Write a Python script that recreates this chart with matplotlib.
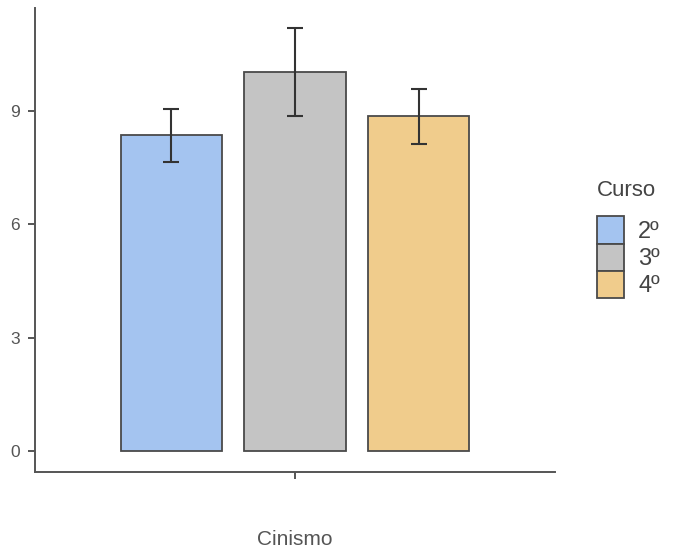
import numpy as np
import matplotlib.pyplot as plt
from matplotlib.patches import Patch

#-------data------
groups = ['2º', '3º', '4º']
means = [8.36, 10.03, 8.87]
lower = [7.65, 8.87, 8.13]
upper = [9.05, 11.20, 9.58]
colors = ['#A4C4F0', '#C4C4C4', '#F0CC8C']
yticks = [0, 3, 6, 9]

plt.rcParams['font.family'] = ['Liberation Sans', 'DejaVu Sans']

fig = plt.figure(figsize=(6.73, 5.54), dpi=100)
ax = fig.add_axes([35/673, 82/554, 520/673, 464/554])

x = np.arange(len(groups)) - 1
w = 0.818
ax.bar(x, means, width=w, color=colors, edgecolor='#4a4a4a', linewidth=1.3, zorder=2)
err = [np.array(means) - np.array(lower), np.array(upper) - np.array(means)]
ax.errorbar(x, means, yerr=err, fmt='none', ecolor='#333333', elinewidth=1.5,
            capsize=5.5, capthick=1.5, zorder=3)

#-------axis------
ax.set_xlim(-2.105, 2.105)
ax.set_ylim(-0.556, 11.73)
ax.set_yticks(yticks)
ax.set_xticks([0])
ax.set_xticklabels([''])
ax.set_xlabel('Cinismo', fontsize=15, color='#555555', labelpad=33)
for s in ['top', 'right']:
    ax.spines[s].set_visible(False)
for s in ['left', 'bottom']:
    ax.spines[s].set_color('#555555')
    ax.spines[s].set_linewidth(1.4)
ax.tick_params(colors='#555555', labelsize=12.5, width=1.4, length=5)
ax.tick_params(axis='y', pad=6)

handles = [Patch(facecolor=c, edgecolor='#4a4a4a', linewidth=1.3) for c in colors]
leg = fig.legend(handles, groups, title='Curso', loc='upper left',
                 bbox_to_anchor=(597/673, 1 - 180/554), frameon=False,
                 borderpad=0, borderaxespad=0,
                 fontsize=17, title_fontsize=16, handlelength=1.15, handleheight=1.4,
                 handletextpad=0.6, labelspacing=0.0)
leg._legend_box.align = 'left'
leg._legend_box.sep = 11
leg.get_title().set_color('#444444')
for t in leg.get_texts():
    t.set_color('#444444')

fig.savefig('out.png', dpi=100)
